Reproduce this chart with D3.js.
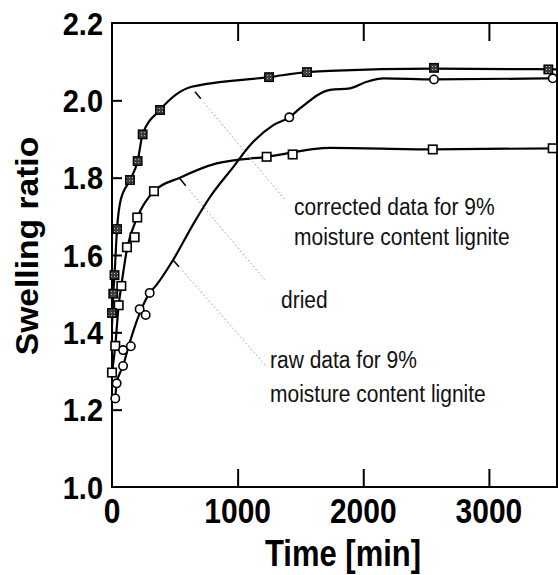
<!DOCTYPE html>
<html><head><meta charset="utf-8">
<script src="https://cdn.jsdelivr.net/npm/d3@7"></script>
<style>body{margin:0;background:#fff} svg{display:block}</style>
</head><body><svg id="c" width="558" height="575"></svg>
<script>
// ---- data ----
const xTickValues = [0, 1000, 2000, 3000];
const yTickValues = [1.0, 1.2, 1.4, 1.6, 1.8, 2.0, 2.2];
const xTickLabels = ["0", "1000", "2000", "3000"];
const yTickLabels = ["1.0", "1.2", "1.4", "1.6", "1.8", "2.0", "2.2"];

// corrected data for 9% moisture content lignite (filled squares)
const correctedT = [0, 10, 20, 40, 143, 204, 244, 382, 1250, 1552, 2563, 3473];
const correctedV = [1.45, 1.50, 1.548, 1.667, 1.794, 1.843, 1.912, 1.975, 2.06, 2.073, 2.084, 2.08];
const correctedFitT = [0, 10, 20, 40, 69, 143, 204, 244, 382, 634, 1250, 1552, 1729, 2563, 3540];
const correctedFitV = [1.42, 1.50, 1.548, 1.667, 1.742, 1.794, 1.843, 1.912, 1.975, 2.035, 2.06, 2.073, 2.076, 2.082, 2.08];

// dried (open squares)
const driedT = [0, 26, 53, 74, 119, 180, 201, 334, 1231, 1438, 2553, 3508];
const driedV = [1.296, 1.365, 1.47, 1.52, 1.62, 1.646, 1.697, 1.765, 1.854, 1.86, 1.873, 1.876];
const driedFitT = [0, 26, 53, 74, 119, 201, 334, 541, 833, 1231, 1736, 2553, 3540];
const driedFitV = [1.296, 1.365, 1.47, 1.52, 1.615, 1.697, 1.765, 1.80, 1.837, 1.854, 1.877, 1.873, 1.876];

// raw data for 9% moisture content lignite (open circles)
const rawT = [26, 37, 88, 88, 150, 220, 268, 300, 1411, 2563, 3508];
const rawV = [1.229, 1.268, 1.313, 1.354, 1.364, 1.46, 1.445, 1.502, 1.956, 2.054, 2.057];
const rawFitT = [26, 37, 88, 127, 220, 300, 353, 486, 647, 780, 966, 1099, 1284, 1411, 1496, 1735, 1894, 2027, 2160, 2563, 3540];
const rawFitV = [1.229, 1.268, 1.313, 1.358, 1.449, 1.502, 1.522, 1.587, 1.68, 1.75, 1.828, 1.884, 1.936, 1.956, 1.979, 2.027, 2.031, 2.048, 2.057, 2.054, 2.057];

// annotation leaders: [startT, startV, endT, endV]
const leaderCorrected = [661, 2.022, 1377, 1.742];
const leaderDried = [541, 1.797, 1218, 1.535];
const leaderRaw = [486, 1.587, 1234, 1.31];

// ---- layout ----
const W = 558, H = 575;
const mLeft = 112, mRight = 557, mTop = 23, mBottom = 487;
const x = d3.scaleLinear().domain([0, 3542]).range([mLeft, mRight]);
const y = d3.scaleLinear().domain([1.0, 2.2]).range([mBottom, mTop]);
const svg = d3.select("#c");
const FONT = "'Liberation Sans', Arial, Helvetica, sans-serif";

const defs = svg.append("defs");
const pat = defs.append("pattern").attr("id", "hatch").attr("patternUnits", "userSpaceOnUse")
  .attr("width", 3).attr("height", 3);
pat.append("rect").attr("width", 3).attr("height", 3).attr("fill", "#3c3c3c");
pat.append("rect").attr("width", 1).attr("height", 1).attr("fill", "#b0b0b0");

const g = svg.append("g");

// frame
g.append("rect").attr("x", mLeft).attr("y", mTop).attr("width", mRight - mLeft).attr("height", mBottom - mTop)
  .attr("fill", "none").attr("stroke", "#000").attr("stroke-width", 2);

// ticks (inward)
const bottomAxis = d3.axisBottom(x).tickValues(xTickValues.filter(v => v > 0)).tickSize(-18).tickFormat("");
g.append("g").attr("transform", `translate(0,${mBottom})`).call(bottomAxis)
  .call(s => s.select(".domain").remove())
  .call(s => s.selectAll("line").attr("stroke", "#000").attr("stroke-width", 2));
const topAxis = d3.axisTop(x).tickValues(xTickValues.filter(v => v > 0)).tickSize(-18).tickFormat("");
g.append("g").attr("transform", `translate(0,${mTop})`).call(topAxis)
  .call(s => s.select(".domain").remove())
  .call(s => s.selectAll("line").attr("stroke", "#000").attr("stroke-width", 2));
const leftAxis = d3.axisLeft(y).tickValues(yTickValues.slice(1, -1)).tickSize(-10).tickFormat("");
g.append("g").attr("transform", `translate(${mLeft},0)`).call(leftAxis)
  .call(s => s.select(".domain").remove())
  .call(s => s.selectAll("line").attr("stroke", "#000").attr("stroke-width", 2));

// stretched text helper (the scanned lettering is taller than it is wide)
function stext(parent, px, py, sy, txt, size, weight, anchor, rot) {
  const tr = `translate(${px},${py})` + (rot ? ` rotate(${rot})` : "") + (rot ? ` scale(${sy},1)` : ` scale(1,${sy})`);
  return parent.append("text").attr("transform", tr)
    .attr("text-anchor", anchor || "start").attr("font-family", FONT)
    .attr("font-weight", weight || "normal").attr("font-size", size).text(txt);
}

// tick labels
const yl = g.append("g");
yTickValues.forEach((v, i) => stext(yl, 103, y(v) + 10.5 * 1.1, 1.1, yTickLabels[i], 29, "bold", "end"));
const xl = g.append("g");
xTickValues.forEach((v, i) => stext(xl, x(v), 523, 1.15, xTickLabels[i], 30, "bold", "middle"));

// axis titles
stext(svg, 38, 246, 1.05, "Swelling ratio", 32, "bold", "middle", -90);
stext(svg, 343, 566, 1.2, "Time [min]", 31, "bold", "middle");

// fit curves
const line = d3.line().x(d => x(d[0])).y(d => y(d[1])).curve(d3.curveMonotoneX);
function fit(T, V) { return T.map((t, i) => [t, V[i]]); }
[[correctedFitT, correctedFitV], [driedFitT, driedFitV], [rawFitT, rawFitV]].forEach(([T, V]) => {
  g.append("path").attr("d", line(fit(T, V))).attr("fill", "none")
    .attr("stroke", "#000").attr("stroke-width", 2.2);
});

// leaders
function leader(L) {
  const x1 = x(L[0]), y1 = y(L[1]), x2 = x(L[2]), y2 = y(L[3]);
  const len = Math.hypot(x2 - x1, y2 - y1);
  const ux = (x2 - x1) / len, uy = (y2 - y1) / len;
  g.append("line").attr("x1", x1).attr("y1", y1).attr("x2", x1 + ux * 9).attr("y2", y1 + uy * 9)
    .attr("stroke", "#000").attr("stroke-width", 1.5);
  g.append("line").attr("x1", x1 + ux * 14).attr("y1", y1 + uy * 14).attr("x2", x2).attr("y2", y2)
    .attr("stroke", "#999").attr("stroke-width", 1).attr("stroke-dasharray", "1.5,2.5");
}
[leaderCorrected, leaderDried, leaderRaw].forEach(leader);

// markers
const sq = 8.5;
g.append("g").selectAll("rect").data(fit(driedT, driedV)).join("rect")
  .attr("x", d => x(d[0]) - sq / 2).attr("y", d => y(d[1]) - sq / 2)
  .attr("width", sq).attr("height", sq).attr("fill", "#fff").attr("stroke", "#000").attr("stroke-width", 1.6);
g.append("g").selectAll("rect").data(fit(correctedT, correctedV)).join("rect")
  .attr("x", d => x(d[0]) - sq / 2).attr("y", d => y(d[1]) - sq / 2)
  .attr("width", sq).attr("height", sq).attr("fill", "url(#hatch)").attr("stroke", "#000").attr("stroke-width", 1.4);
g.append("g").selectAll("circle").data(fit(rawT, rawV)).join("circle")
  .attr("cx", d => x(d[0])).attr("cy", d => y(d[1])).attr("r", 4.2)
  .attr("fill", "#fff").attr("stroke", "#000").attr("stroke-width", 1.6);

// annotation texts
const notes = [
  [294, 215, "corrected data for 9%"],
  [294, 245, "moisture content lignite"],
  [281, 308, "dried"],
  [270, 368, "raw data for 9%"],
  [270, 402, "moisture content lignite"]
];
const nt = svg.append("g").attr("fill", "#111");
notes.forEach(d => stext(nt, d[0], d[1], 1.15, d[2], 21, "normal", "start"));
</script></body></html>
